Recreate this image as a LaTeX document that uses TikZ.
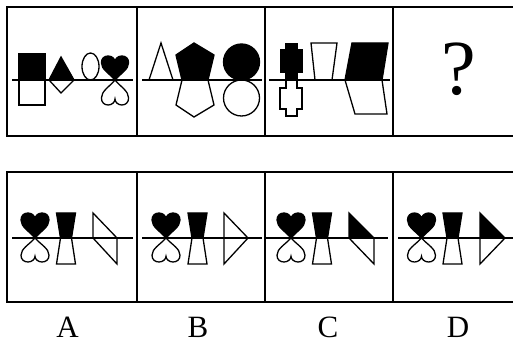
\documentclass[tikz,border=0pt]{standalone}
\usepackage{fontspec}
\setmainfont{Liberation Serif}
\usetikzlibrary{positioning}

\tikzset{
  heart/.pic={
    \path[draw, pic actions] (0,0) .. controls (-6,-7) and (-14,-11) .. (-14,-18)
      .. controls (-14,-22.5) and (-11,-25) .. (-7,-25)
      .. controls (-3,-25) and (0,-22) .. (0,-19)
      .. controls (0,-22) and (3,-25) .. (7,-25)
      .. controls (11,-25) and (14,-22.5) .. (14,-18)
      .. controls (14,-11) and (6,-7) .. (0,0) -- cycle;
  }
}

\begin{document}
\begin{tikzpicture}[x=1pt, y=-1pt,
    frame/.style={draw, line width=2pt},
    outl/.style={draw, line width=1.3pt, line join=miter},
    blk/.style={outl, fill=black},
    axis/.style={draw, line width=1.3pt},
    letter/.style={inner sep=0pt, anchor=base, font=\fontsize{31}{33}\selectfont}
  ]
  \useasboundingbox (0,0) rectangle (513,344);
  \clip (0,0) rectangle (513,344);

  % frames
  \draw[frame] (7,7) rectangle (521,136);
  \draw[frame] (137,7) -- (137,136) (265,7) -- (265,136) (393,7) -- (393,136);
  \draw[frame] (7,172) rectangle (521,302);
  \draw[frame] (137,172) -- (137,302) (265,172) -- (265,302) (393,172) -- (393,302);

  % first figure
  \path[blk] (19,54) rectangle (45,80);
  \path[outl] (19,80) rectangle (45,105);
  \path[blk] (49,80) -- (61,57) -- (74,80) -- cycle;
  \path[outl] (49,80) -- (61,93) -- (74,80);
  \path[outl] (90.5,66.5) ellipse [x radius=8.5, y radius=13.5];
  \pic[fill=black, line width=1.3pt, xscale=0.97, yscale=0.96] at (115,80) {heart};
  \pic[line width=1.3pt, xscale=0.97, yscale=-1] at (115,80) {heart};
  \path[axis] (12,80) -- (133,80);

  % second figure
  \path[outl] (149,80) -- (161,43) -- (173,80) -- cycle;
  \path[blk] (182,80) -- (176,55) -- (194,43) -- (214,55) -- (208,80) -- cycle;
  \path[outl] (182,80) -- (176,105) -- (194,117) -- (214,105) -- (208,80) -- cycle;
  \path[blk] (241.5,62) circle [radius=18];
  \path[outl] (241.5,98) circle [radius=18];
  \path[axis] (142,80) -- (262,80);

  % third figure
  \path[blk] (286,44) -- (297,44) -- (297,50) -- (302,50) -- (302,72) -- (297,72)
    -- (297,80) -- (286,80) -- (286,72) -- (281,72) -- (281,50) -- (286,50) -- cycle;
  \path[outl] (286,80) -- (297,80) -- (297,88) -- (302,88) -- (302,109) -- (297,109)
    -- (297,116) -- (286,116) -- (286,109) -- (280,109) -- (280,88) -- (286,88) -- cycle;
  \path[outl] (311,43) -- (337,43) -- (332,80) -- (315,80) -- cycle;
  \path[blk] (352,43) -- (388,43) -- (382,80) -- (345,80) -- cycle;
  \path[outl] (345,80) -- (382,80) -- (387,114) -- (355,114) -- cycle;
  \path[axis] (269,80) -- (390,80);

  % fourth figure
  \node[inner sep=0pt, anchor=base, font=\fontsize{78}{80}\selectfont] (quest) at (458.5,95) {?};

  % option A
  \pic[fill=black, line width=1.3pt] at (35,238) {heart};
  \pic[line width=1.3pt, yscale=-0.96] at (35,238) {heart};
  \path[blk] (56.5,213) -- (75.5,213) -- (71.5,238) -- (60.5,238) -- cycle;
  \path[outl] (60.5,238) -- (71.5,238) -- (75.5,264) -- (56.5,264) -- cycle;
  \path[outl] (93,213) -- (117,238) -- (117,264) -- (93,238) -- cycle;
  \path[axis] (12,238) -- (133,238);

  % option B
  \pic[fill=black, line width=1.3pt] at (166,238) {heart};
  \pic[line width=1.3pt, yscale=-0.96] at (166,238) {heart};
  \path[blk] (188,213) -- (207,213) -- (203,238) -- (192,238) -- cycle;
  \path[outl] (192,238) -- (203,238) -- (207,264) -- (188,264) -- cycle;
  \path[outl] (224,213) -- (248,238) -- (224,264) -- cycle;
  \path[axis] (142,238) -- (262,238);

  % option C
  \pic[fill=black, line width=1.3pt] at (291,238) {heart};
  \pic[line width=1.3pt, yscale=-0.96] at (291,238) {heart};
  \path[blk] (312.5,213) -- (331.5,213) -- (327.5,238) -- (316.5,238) -- cycle;
  \path[outl] (316.5,238) -- (327.5,238) -- (331.5,264) -- (312.5,264) -- cycle;
  \path[blk] (349,213) -- (374,238) -- (349,238) -- cycle;
  \path[outl] (349,238) -- (374,238) -- (374,264) -- cycle;
  \path[axis] (266,238) -- (388,238);

  % option D
  \pic[fill=black, line width=1.3pt] at (421.5,238) {heart};
  \pic[line width=1.3pt, yscale=-0.96] at (421.5,238) {heart};
  \path[blk] (443,213) -- (462,213) -- (458,238) -- (447,238) -- cycle;
  \path[outl] (447,238) -- (458,238) -- (462,264) -- (443,264) -- cycle;
  \path[blk] (480,213) -- (505,238) -- (480,238) -- cycle;
  \path[outl] (480,238) -- (505,238) -- (480,264) -- cycle;
  \path[axis] (398,238) -- (513,238);

  % labels
  \node[letter] (labA) at (67.5,337) {A};
  \node[letter] (labB) at (198,337) {B};
  \node[letter] (labC) at (328,337) {C};
  \node[letter] (labD) at (458,337) {D};
\end{tikzpicture}
\end{document}
